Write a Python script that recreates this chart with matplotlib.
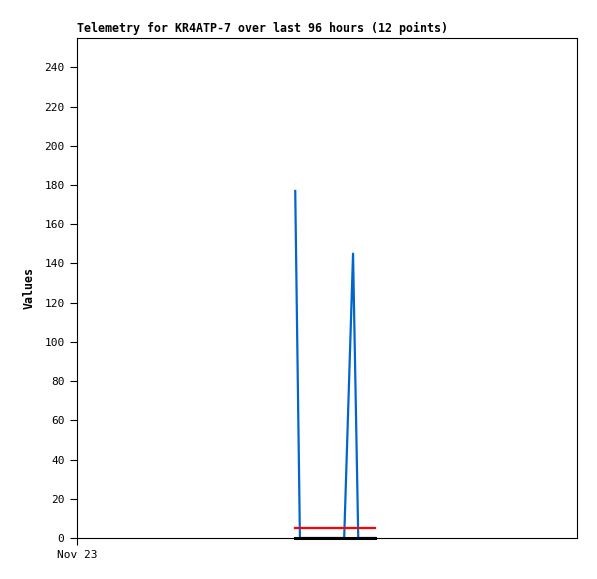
import matplotlib
matplotlib.use("Agg")
import matplotlib.pyplot as plt

# hours since Nov 23 00:00
hours = [41.9, 42.8, 44.7, 46.6, 48.6, 51.3, 53.0, 54.0, 54.9, 55.9, 56.6, 57.2]
series_blue = [177, 0, 0, 0, 0, 0, 145, 0, 0, 0, 0, 0]
series_red = [5] * 12
series_black = [0] * 12

xtick_pos = [0]
xtick_labels = ["Nov 23"]
yticks = list(range(0, 241, 20))

plt.rcParams['font.family'] = ['DejaVu Sans Mono']

fig = plt.figure(figsize=(5.97, 5.79), dpi=100)
ax = fig.add_axes([77 / 597, 1 - 538 / 579, 500 / 597, 500 / 579])

ax.plot(hours, series_blue, color="#0066cc", lw=1.6, zorder=2)
ax.plot(hours, series_red, color="#ff0000", lw=1.6, zorder=3)
ax.plot(hours, series_black, color="black", lw=2.2, zorder=4, clip_on=False)

ax.set_xlim(0, 96)
ax.set_ylim(0, 255)
ax.set_yticks(yticks)
ax.set_xticks(xtick_pos)
ax.set_xticklabels(xtick_labels)
ax.tick_params(axis="both", direction="out", length=5, width=0.8, labelsize=8, pad=4)

for s in ax.spines.values():
    s.set_linewidth(0.8)

ax.set_ylabel("Values", fontsize=8.4, fontweight="bold", labelpad=6)
ax.set_title("Telemetry for KR4ATP-7 over last 96 hours (12 points)",
             loc="left", fontsize=8.4, fontweight="bold", pad=4)

fig.savefig("out.png", dpi=100)
